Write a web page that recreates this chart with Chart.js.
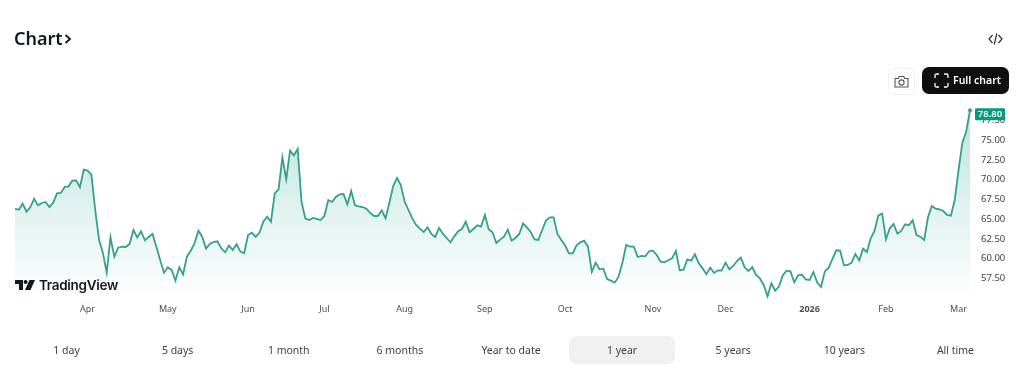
<!DOCTYPE html>
<html>
<head>
<meta charset="utf-8">
<title>Chart</title>
<script src="https://cdn.jsdelivr.net/npm/chart.js@4/dist/chart.umd.min.js"></script>
<style>
  html, body { margin: 0; padding: 0; background: #fff; }
  body { width: 1024px; height: 377px; position: relative; overflow: hidden; font-family: "Noto Sans", sans-serif; color: #131722; }
  #chart { position: absolute; left: 0; top: 0; }
  .title { position: absolute; left: 14px; top: 25px; font-size: 18px; line-height: 26px; font-weight: 600; }
  .embed { position: absolute; left: 988px; top: 32px; }
  .camera { position: absolute; left: 888px; top: 68px; width: 25px; height: 25px; border: 1px solid #f0f0f0; border-radius: 6px; display: flex; align-items: center; justify-content: center; }
  .full { position: absolute; left: 922px; top: 67px; width: 87px; height: 27px; background: #0f0f0f; border-radius: 7px; color: #fff; font-size: 10.5px; font-weight: 600; line-height: 27px; }
  .full svg { position: absolute; left: 12px; top: 6px; }
  .full span { position: absolute; left: 31px; }
  .logo { position: absolute; left: 15px; top: 277px; display: flex; align-items: center; font-family: Inter, sans-serif; font-weight: 600; font-size: 13.5px; letter-spacing: -0.3px; color: #131722; }
  .logo svg { margin-right: 4px; }
  .tabs { position: absolute; left: 11px; top: 336px; width: 1000px; height: 28px; display: flex; }
  .tab { flex: 1; margin: 0 2.5px; text-align: center; font-size: 10.5px; line-height: 28px; color: #3c3f47; border-radius: 8px; }
  .tab.on { background: #f0f0f0; }
</style>
</head>
<body>
<canvas id="chart" width="1024" height="377"></canvas>

<div class="title">Chart<svg width="9" height="12" viewBox="0 0 9 12" style="margin-left:1px"><path d="M1.5 2 L6 6 L1.5 10" fill="none" stroke="#131722" stroke-width="1.8"/></svg></div>
<svg class="embed" width="15" height="14" viewBox="0 0 15 14"><path d="M4.5 3 L1 7 L4.5 11 M10.5 3 L14 7 L10.5 11 M8.8 1.5 L6.2 12.5" fill="none" stroke="#2a2e39" stroke-width="1.2"/></svg>
<div class="camera"><svg width="15" height="13" viewBox="0 0 15 13"><path d="M1 3.5 H4.2 L5.2 1.5 H9.8 L10.8 3.5 H14 V12 H1 Z" fill="none" stroke="#555" stroke-width="1.1"/><circle cx="7.5" cy="7.5" r="2.6" fill="none" stroke="#555" stroke-width="1.1"/></svg></div>
<div class="full"><svg width="15" height="15" viewBox="0 0 15 15"><path d="M1 5 V2.5 Q1 1 2.5 1 H5 M10 1 H12.5 Q14 1 14 2.5 V5 M14 10 V12.5 Q14 14 12.5 14 H10 M5 14 H2.5 Q1 14 1 12.5 V10" fill="none" stroke="#fff" stroke-width="1.3"/></svg><span>Full chart</span></div>
<div class="logo"><svg width="20" height="11" viewBox="0 0 20 11"><path d="M0 0 H8 V10 H4 V4 H0 Z" fill="#131722"/><circle cx="10.6" cy="2" r="2" fill="#131722"/><path d="M14.5 0 H20 L15.5 10 H10 Z" fill="#131722"/></svg>TradingView</div>
<div class="tabs" id="tabs"></div>

<script>
// last year of closes, one per trading day
const values = [
  66.29, 66.20, 66.96, 65.95, 66.50, 67.60, 66.75, 67.05, 67.18, 66.54,
  67.09, 68.27, 68.32, 69.08, 69.16, 69.88, 69.92, 69.04, 71.28, 71.15,
  70.64, 66.16, 62.36, 60.75, 58.21, 62.69, 60.24, 61.38, 61.51, 61.47,
  61.85, 63.62, 62.69, 63.46, 62.31, 62.74, 63.12, 61.51, 59.82, 58.21,
  58.89, 58.55, 57.20, 58.89, 58.00, 60.24, 61.00, 61.93, 63.54, 62.78,
  61.26, 61.85, 62.10, 62.19, 61.30, 60.79, 61.64, 61.09, 61.81, 60.88,
  60.67, 62.99, 63.29, 62.74, 63.29, 64.68, 65.32, 64.68, 68.27, 68.78,
  72.84, 70.05, 73.68, 73.09, 73.90, 67.22, 65.10, 64.89, 65.15, 65.02,
  64.89, 65.40, 67.43, 67.18, 67.81, 68.15, 68.19, 66.88, 68.57, 66.75,
  66.63, 66.54, 66.33, 65.78, 65.40, 65.40, 66.12, 65.10, 67.09, 69.20,
  70.22, 69.33, 67.22, 66.16, 65.10, 64.26, 63.79, 63.37, 63.96, 63.12,
  62.74, 63.88, 63.16, 62.61, 62.06, 62.82, 63.46, 63.75, 64.68, 63.33,
  63.75, 64.22, 64.05, 65.53, 63.71, 63.33, 61.98, 62.40, 62.78, 63.67,
  62.27, 62.61, 63.12, 64.47, 63.96, 63.37, 62.44, 62.36, 63.62, 64.81,
  65.23, 65.23, 63.12, 62.36, 61.68, 60.67, 60.67, 61.68, 62.06, 62.27,
  61.51, 58.30, 59.48, 58.64, 58.72, 57.41, 57.20, 56.95, 57.71, 59.48,
  61.72, 61.51, 61.51, 60.20, 60.33, 60.29, 60.92, 61.00, 60.45, 59.61,
  59.52, 59.78, 60.03, 60.96, 58.51, 58.59, 59.90, 59.74, 60.54, 59.40,
  58.76, 58.00, 58.85, 58.17, 58.51, 58.47, 59.48, 58.64, 59.06, 59.69,
  60.12, 58.89, 58.43, 58.93, 57.92, 57.50, 56.65, 55.21, 56.86, 55.93,
  56.44, 57.88, 58.47, 58.38, 56.99, 57.88, 57.96, 57.37, 57.28, 58.30,
  56.95, 56.40, 58.38, 58.85, 59.95, 61.05, 61.00, 59.14, 59.19, 59.48,
  60.58, 59.74, 61.26, 60.83, 62.57, 63.50, 65.48, 65.70, 62.44, 63.84,
  64.39, 63.16, 63.50, 64.34, 64.22, 64.85, 62.99, 62.78, 62.36, 65.23,
  66.67, 66.33, 66.25, 66.03, 65.53, 65.44, 67.43, 71.23, 74.74, 76.09,
  78.80
];

const monthLabels = ['Apr', 'May', 'Jun', 'Jul', 'Aug', 'Sep', 'Oct', 'Nov', 'Dec', '2026', 'Feb', 'Mar'];
const monthIndex = [19, 40, 61, 81, 102, 123, 144, 167, 186, 208, 228, 247];
const yTicks = [57.5, 60, 62.5, 65, 67.5, 70, 72.5, 75, 77.5];
const ranges = ['1 day', '5 days', '1 month', '6 months', 'Year to date', '1 year', '5 years', '10 years', 'All time'];
const activeRange = '1 year';

// tabs under the chart
const tabs = document.getElementById('tabs');
ranges.forEach(r => {
  const d = document.createElement('div');
  d.className = r === activeRange ? 'tab on' : 'tab';
  d.textContent = r;
  tabs.appendChild(d);
});

// one label slot per trading day, only month starts get text
const labels = values.map((v, i) => {
  const m = monthIndex.indexOf(i);
  return m >= 0 ? monthLabels[m] : '';
});

// price tag at the right edge
const lastPriceTag = {
  id: 'lastPriceTag',
  afterDraw(chart) {
    const { ctx } = chart;
    const last = values[values.length - 1];
    const y = chart.scales.y.getPixelForValue(last) + 4;
    ctx.save();
    ctx.fillStyle = '#089981';
    ctx.beginPath();
    ctx.roundRect(975, y - 6, 30, 12, 1);
    ctx.fill();
    ctx.fillStyle = '#fff';
    ctx.font = '600 9.5px "Noto Sans"';
    ctx.textAlign = 'center';
    ctx.textBaseline = 'middle';
    ctx.fillText(last.toFixed(2), 990, y);
    ctx.restore();
  }
};

new Chart(document.getElementById('chart'), {
  type: 'line',
  data: {
    labels: labels,
    datasets: [{
      data: values,
      borderColor: '#35a08c',
      borderWidth: 1.8,
      tension: 0,
      clip: false,
      fill: 'start',
      pointRadius: ctx => ctx.dataIndex === values.length - 1 ? 2 : 0,
      pointBackgroundColor: '#35a08c',
      pointBorderWidth: 0,
      backgroundColor: ctx => {
        const area = ctx.chart.chartArea;
        if (!area) return 'transparent';
        const g = ctx.chart.ctx.createLinearGradient(0, area.top, 0, area.bottom);
        g.addColorStop(0, 'rgba(8,153,129,0.28)');
        g.addColorStop(1, 'rgba(8,153,129,0)');
        return g;
      }
    }]
  },
  options: {
    responsive: false,
    animation: false,
    layout: { padding: { left: 15, top: 100, right: 0, bottom: 0 } },
    plugins: { legend: { display: false }, tooltip: { enabled: false } },
    scales: {
      x: {
        grid: { display: false, drawTicks: false },
        border: { display: false },
        afterFit: s => { s.height = 79; },
        ticks: {
          autoSkip: false,
          maxRotation: 0,
          padding: 6,
          color: '#4a4e57',
          font: ctx => ({
            family: '"Noto Sans"',
            size: 9,
            weight: ctx.tick && ctx.tick.label === '2026' ? '700' : '400'
          })
        }
      },
      y: {
        position: 'right',
        min: 55,
        max: 80.11,
        grid: { display: false, drawTicks: false },
        border: { display: false },
        afterFit: s => { s.width = 54; },
        afterBuildTicks: s => { s.ticks = yTicks.map(v => ({ value: v })); },
        ticks: {
          padding: 11,
          color: '#3c3f47',
          font: { family: '"Noto Sans"', size: 9.5 },
          callback: v => v.toFixed(2)
        }
      }
    }
  },
  plugins: [lastPriceTag]
});
</script>
</body>
</html>
